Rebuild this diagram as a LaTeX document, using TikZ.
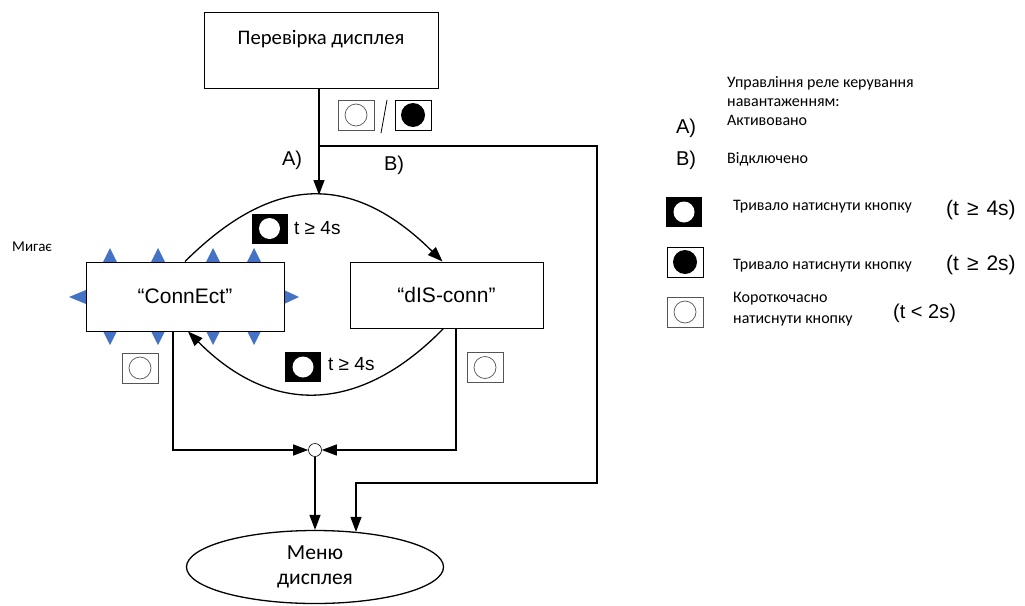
\documentclass[tikz,border=0pt]{standalone}
\usepackage{fontspec}
\setmainfont{Carlito}
\newfontfamily\arial{Liberation Sans}
\usetikzlibrary{arrows.meta,shapes.geometric}
\definecolor{tri}{HTML}{4472C4}
\definecolor{icongray}{HTML}{555555}
\begin{document}
\begin{tikzpicture}[x=1pt,y=-1pt,
  box/.style={draw, line width=1pt, fill=white, inner sep=0pt},
  line/.style={line width=1.3pt},
  conn/.style={line width=1.3pt, -{Triangle[length=15pt,width=11pt]}},
  ar/.style={font=\arial\fontsize{20}{24}\selectfont, inner sep=0pt},
  tl/.style={font=\arial\fontsize{19}{23}\selectfont, inner sep=0pt, anchor=west},
  leg/.style={font=\fontsize{16}{19}\selectfont, inner sep=0pt, anchor=west, align=left},
  iconW/.pic={\draw[icongray, line width=0.7pt, fill=white] (-18,-15) rectangle (18,15);
              \draw[icongray, line width=0.7pt] (0,0) circle[radius=11pt];},
  iconB/.pic={\draw[black, line width=0.9pt, fill=white] (-18,-15) rectangle (18,15);
              \fill[black] (0,0) circle[radius=12pt];},
  iconK/.pic={\fill[black] (-18,-15) rectangle (18,15);
              \fill[white] (0,0) circle[radius=10.5pt];},
  tup/.pic={\fill[tri] (-7,0) -- (0,-14) -- (7,0) -- cycle;},
  tdn/.pic={\fill[tri] (-7,0) -- (0,14) -- (7,0) -- cycle;},
]
\useasboundingbox (0,0) rectangle (1025,605);

% blue blinking triangles (behind the box)
\foreach \x in {110,158,213,254}{
  \pic at (\x,262) {tup};
  \pic at (\x,331) {tdn};
}
\fill[tri] (86,290) -- (69,297) -- (86,304) -- cycle;
\fill[tri] (284,290) -- (299,297) -- (284,304) -- cycle;

% nodes
\node[box, minimum width=234pt, minimum height=76pt, align=center,
      font=\fontsize{20.7}{25}\selectfont] (top) at (321,50) {Перевірка дисплея\\ \mbox{}};
\node[box, minimum width=198pt, minimum height=69pt,
      font=\arial\fontsize{21}{25}\selectfont] (con) at (185,296.5) {“ConnEct”};
\node[box, minimum width=193pt, minimum height=66pt,
      font=\arial\fontsize{21}{25}\selectfont] (dis) at (446.5,295) {“dIS-conn”};
\node[ellipse, draw, line width=1.3pt, minimum width=257pt, minimum height=73pt,
      inner sep=0pt, align=center, font=\fontsize{21.5}{25}\selectfont] (menu) at (315,567) {Меню\\дисплея};
\node[circle, draw, line width=0.6pt, minimum size=13pt, inner sep=0pt] (junc) at (315,450) {};

% connectors
\coordinate (apex) at (319,195);
\coordinate (split) at (319,146);
\coordinate (rc) at (597,483);
\coordinate (bc) at (356,483);
\draw[conn] (top.south -| apex) -- (apex);
\draw[conn] (split) -| (rc) -- (bc) -- (bc |- menu.40);
\draw[conn] (con.north) .. controls (274,173) and (353,173) .. ([xshift=-4pt]dis.north);
\draw[conn] ([xshift=-3pt]dis.south) .. controls (360,414) and (272,416) .. ([xshift=3pt]con.south);
\draw[conn] ([xshift=-12pt]con.south) |- (junc.west);
\draw[conn] ([xshift=9.5pt]dis.south) |- (junc.east);
\draw[conn] (junc.south) -- (junc.south |- menu.north);

% labels in diagram
\node[ar] (la) at (292,160) {A)};
\node[ar] (lb) at (394,165) {B)};
\node[font=\fontsize{15}{18}\selectfont, inner sep=0pt, anchor=west] (mig) at (12,247) {Мигає};
\pic at (356,115) {iconW};
\draw[line width=0.8pt] (387,100) -- (381,133);
\pic at (413,115) {iconB};
\pic at (269.5,228.5) {iconK};
\node[tl] (t1) at (294,228) {t ≥ 4s};
\pic at (303,367) {iconK};
\node[tl] (t2) at (328,364) {t ≥ 4s};
\pic at (140,368) {iconW};
\pic at (485,367.5) {iconW};

% legend
\node[leg] (lt) at (727,101) {Управління реле керування\\навантаженням:\\Активовано};
\node[ar] (lA) at (686,128) {A)};
\node[ar] (lB) at (686,160) {B)};
\node[leg] (lBt) at (727,159) {Відключено};
\pic at (684,212) {iconK};
\node[leg] (l1) at (733,207) {Тривало натиснути кнопку};
\node[ar, anchor=west, font=\arial\fontsize{21}{25}\selectfont] (l1t) at (946,210) {(t\hspace{8pt}≥\hspace{8pt}4s)};
\pic at (685,262) {iconB};
\node[leg] (l2) at (733,266) {Тривало натиснути кнопку};
\node[ar, anchor=west, font=\arial\fontsize{21}{25}\selectfont] (l2t) at (946,265) {(t\hspace{8pt}≥\hspace{8pt}2s)};
\pic at (685,312) {iconW};
\node[leg, font=\fontsize{16}{21}\selectfont] (l3) at (733,309) {Короткочасно\\натиснути кнопку};
\node[ar, anchor=west] (l3t) at (893,313) {(t < 2s)};
\end{tikzpicture}
\end{document}
